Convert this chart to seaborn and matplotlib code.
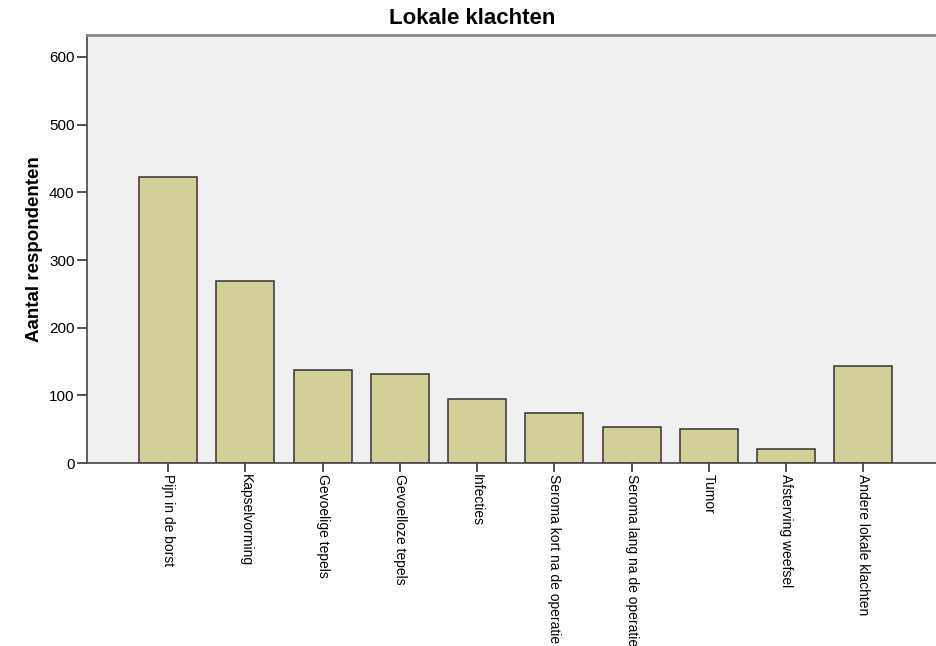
import pandas as pd
import matplotlib
matplotlib.use("Agg")
import matplotlib.pyplot as plt
import seaborn as sns

# data
categories = [
    "Pijn in de borst", "Kapselvorming", "Gevoelige tepels", "Gevoelloze tepels",
    "Infecties", "Seroma kort na de operatie", "Seroma lang na de operatie",
    "Tumor", "Afsterving weefsel", "Andere lokale klachten",
]
counts = [423, 269, 137, 131, 95, 74, 54, 51, 21, 143]
y_ticks = [0, 100, 200, 300, 400, 500, 600]

df = pd.DataFrame({"klacht": categories, "aantal": counts})

sns.set_style("white")
plt.rcParams["font.family"] = ["Liberation Sans", "DejaVu Sans"]
plt.rcParams["text.color"] = "black"
plt.rcParams["xtick.color"] = "black"
plt.rcParams["ytick.color"] = "black"

fig = plt.figure(figsize=(9.36, 6.46), dpi=100)
ax = fig.add_axes([0.093, 0.283, 0.907, 0.6625])
ax.set_facecolor("#f0f0f0")

sns.barplot(data=df, x="klacht", y="aantal", color="#d3cf98", saturation=1,
            edgecolor="#333333", linewidth=1.1, width=0.75, ax=ax)

ax.set_xlim(-1.05, 9.94)
ax.set_ylim(0, 632)
ax.set_yticks(y_ticks)
ax.tick_params(axis="y", direction="out", length=7, width=1.3, color="#444444",
               labelsize=11, pad=2, left=True)
ax.tick_params(axis="x", direction="out", length=6.5, width=1.3, color="#444444",
               labelsize=10, pad=1, bottom=True)
ax.set_xticks(range(len(categories)))
ax.set_xticklabels(categories, rotation=270, ha="center", va="top")

for s in ["left", "bottom"]:
    ax.spines[s].set_color("#444444")
    ax.spines[s].set_linewidth(1.2)
ax.spines["top"].set_color("#8a8a8a")
ax.spines["top"].set_linewidth(2)
ax.spines["right"].set_visible(False)

ax.set_xlabel("")
ax.set_ylabel("Aantal respondenten", fontsize=13.5, fontweight="bold",
              color="black", labelpad=4)
fig.text(0.505, 0.972, "Lokale klachten", ha="center", va="center",
         fontsize=16, fontweight="bold", color="black")

fig.savefig("out.png", dpi=100)
